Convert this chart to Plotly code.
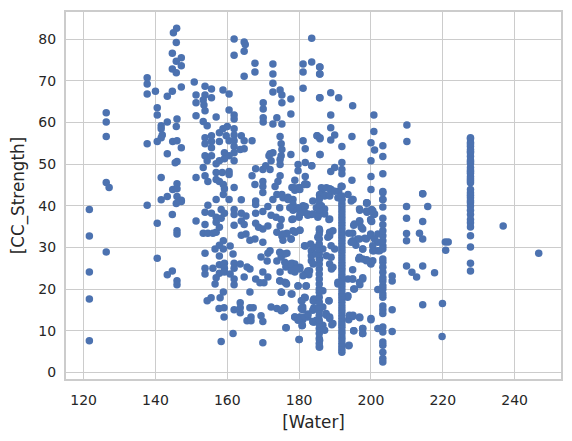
import plotly.graph_objects as go

water_a = [145.9,145,145.8,144.7,147.2,145.8,147.2,144.7,145.8,137.7,137.7,137.7,140,144.7,143.3,147.2,150.8,153.8,155.6,153.8,151.3,155.6,153.3,151.3,153.5,153.8,151.3,153.3,154.4,156.9,158.8,160.5,160.5,161.9,161.9,161.9,161.9,164.7,165,164.7,164.7,167.7,167.7,172.7,172.7,172.7,172.7,174.7,175.2,175.2,177.7,177.7,170,170,170,170,173.8,172.7,175.2,183.5,181.1,183.5,181.1,185.7,185.7,181.1,185.7,140.5,140.5,143.3,146,145.8,141.6,141.6,141.9,141.6,140.5,137.7,144.8,146,147.2,143.3,146,145.5,126.3,126.3,126.3,126.3,127.1,141.6,151.3,146,144.8,146,143.3,141.6,146,147.2]
strength_a = [82.6,81.5,79.2,76.6,75.5,74.7,73.6,72.8,71.9,70.7,69.2,66.8,67.5,67.5,66.3,68.5,69.7,68.7,68,66.6,66.6,65.9,65.4,64.7,64.2,62.8,61.6,60.2,59.2,61.3,67.8,66.8,63,61.8,60.8,80,76.1,79.3,78.7,77.1,71.1,74.2,72.1,74,71.6,69.4,67.3,67.8,66.6,64.7,65.6,62,64.7,63.2,61.1,60.1,61.1,59.6,59.6,80.2,74,74.5,72.1,73.3,71.6,68.2,65.9,63.5,61.8,60.1,60.8,59,59.2,58.5,57,56.3,55.4,54.9,55.4,55.6,53.9,52.5,50.6,50.3,62.3,60.1,56.6,45.6,44.4,46.8,46.8,45.3,43.9,44.1,42.2,41.4,42.2,41.3]

# Dense band between 40 and 60
water_b = [153.8,153.8,155.6,155.6,155.6,157.8,157.8,158.8,160,159.7,161.9,161.9,161.9,161.9,161.9,161.9,160.5,163.9,164.7,166.9,164.7,163.6,153.8,155.6,154.4,153.3,159.2,160.5,159.2,157.8,156.9,153.8,154.6,156.9,158.6,160.5,160.5,156.9,157.8,158.9,159.2,161.9,158.9,156.9,160.5,163.9,174.7,175,175.2,175,174.7,174.7,177.7,181.1,181.7,185,185.8,185.8,183.5,181.7,179.7,179.7,181.7,182.2,178.8,180,178,178.8,181.7,172.7,171.6,171.9,172.2,167.9,169.9,170.7,171.9,166.9,167.7,169.9,169.9,169.9,174.7,174.1,173.3,173.8,175.2,176.9,172.7,178.3,167.9,185.8]
strength_b = [56.3,54.9,56.8,55.4,53.9,57.5,55.4,58.5,59,56.8,58.5,57,55.6,54.2,52.7,50.8,55.6,56.8,55.6,55.6,53.7,53.5,52,52,50.8,49.2,52.7,52,51.3,50.8,50.1,47.2,45.8,48,48,48.2,47.5,46.3,45.8,45.1,44.1,44.4,42.7,41.5,41.5,41.4,56.6,54.9,53.5,52,51.1,49.9,52.3,55.6,53.7,56.8,56.3,52.3,49.6,50.4,49.9,48.4,47,45.1,46.1,44.4,44.4,43.7,45.3,52.7,52,52.5,50.8,48.9,48.7,49.6,48.7,47.2,45.1,45.8,44.6,43.2,47.2,45.8,44.6,42.7,42.7,42,41.5,41.5,41.1,42.5]

# Lower-left part of the cloud
water_c = [121.6,121.6,121.6,121.6,121.6,126.3,137.7,140.5,140.5,144.7,146,146,147.2,145.8,144.7,143.3,146,146,151.3,153.8,153.3,154.6,156,156.9,157.8,153.8,154.6,155.6,156.9,156.9,158.3,159.2,158.3,161.9,161.9,161.9,163.9,163.9,165.2,164.7,163.9,165.2,166.3,167.7,167.9,168.7,169.9,171.3,167.9,167.9,169.9,171.3,172.2,173.6,175,174.7,173.8,175.2,175.5,176.6,169.9,178,180,182.4,180,181.7,177.7,178.9,180.2,181.7,158.9,157.8,156.6,158.9,160.8,157.8,153.8,161.6,171.9,171.3,169.4,171.1,176.6,175.5,175,173.8]
strength_c = [39.1,32.7,24.1,17.6,7.6,28.9,40.1,35.8,27.4,37.9,34,33.2,41,40.5,24.3,23.4,22,21,36.3,35.5,33.4,33.4,33.4,33.6,34.8,38.4,40.1,38.2,37.2,36,39.1,38.2,37,35.3,39.1,37.9,36.3,38.2,37.5,35.5,32.9,33.2,31.7,32,35.8,34.8,34.4,35.1,40.3,38.2,38.6,39.8,37.7,37.2,36.7,35.1,33.6,32.7,31.7,33.4,31.2,36.7,37.2,37.7,39.1,39.8,32,33.6,34.1,30.3,31.6,30.5,29.6,29.6,30.3,27.9,28.6,28.4,29.2,28.6,27.7,26.7,28.6,28.4,27.7,26.7]

water_d = [153.8,153.8,156,157.8,159.2,159.2,157.8,159.2,156.9,156.6,160.8,161.9,161.9,163.6,161.9,161.9,164.7,165.5,166.3,169.9,171.3,167.9,169.1,170.2,174.7,174.7,176.3,176.3,178,178.8,180.2,178,182.4,182.7,181.7,179.7,181.9,158.9,158,166.3,175,178,155.5,154.4,157.7,159.1,159.1,161.9,163.6,163.6,163.6,166.3,167.2,166.6,165.5,166.6,169.4,169.9,172.2,173.8,175,175.8,176.3,161.6,158.3,169.9,180,178.8,179.9,181,182.4,180.8,181.7,180.8,181,181,184.1,184.1,183.8]
strength_d = [25,23.6,25,25.8,26.2,25,23.8,24.1,22.7,21.2,23.6,26.2,25,26,22.4,21,22.9,25.3,24.8,24.1,22.9,22.4,21.5,21.5,24.1,21.9,21.5,25.3,26.2,24.1,24.8,25,24.3,23.4,23.6,20.7,20.7,19.3,17.9,19.3,19.3,18.8,17.9,17.2,15.3,15.5,13.3,15,16.7,15.5,14.3,15.5,15.5,13.3,12.4,12.4,13.6,12.2,15.7,15.3,14.8,15.5,10.7,9.3,7.4,7.1,7.9,13.3,13.1,12.6,13.3,11.2,17.9,17.2,15.7,15,17.6,15.5,12.2]

# Right part, scattered points
water_e = [205.9,205.9,205.9,205.9,200,200,201.9,201.9,201.9,201.9,209.9,209.9,209.9,209.9,209.9,214.4,215.8,214.4,213.5,214.4,211.4,212.7,214.4,217.7,214.4,219.9,219.8,220.7,221.5,220.8,236.8,246.7,200.8,200.8,200,201,203.3,203.3,200,200,203.3,200,203.3,203.3,210,210,214.4,188.8,185.8,191,194.9,188.8,188.8,185,185.8,189.9,188.8,194.7,191.9,185.8,183.5,191.9,189.9,188.8,191.9,191.9,194.7,191.9,186.6,188.5,191,185.7,187.1,188.5,191.9,195,198.8,185.8,185.8]
strength_e = [9.8,15,21.9,23.1,12.6,26,10.5,19.9,29.2,33.2,39.8,37,33.3,31.6,25.5,42.9,39.8,36.2,33.4,32,24,22.9,25.5,23.9,16.2,16.5,8.6,31.3,31.3,29.3,35.1,28.6,61.8,57.8,55.1,53.4,54.4,51.8,50.8,47,47.7,43.9,43.4,41.5,59.4,55.4,42.9,67.1,65.9,65.9,64,61.8,58.7,56.8,56.1,57,55.8,56.6,54.2,52.3,49.6,50.4,49.2,48.2,48.7,47.7,46.1,44.6,44.1,44.1,43.5,42.5,42.5,42.5,41.5,41.5,40.7,73.3,71.6]

water_f = [194.9,198.8,196.9,198.8,200.2,200.8,199.9,200.2,196.9,195.2,197.7,194.9,193.8,199.9,198.3,196.3,194.9,195.8,197.7,200.8,197.7,196.6,198.8,199.9,194.9,194.9,197.7,196.9,195.2,193.5,188.3,194.9,196.9,193.8,189.1,195.2,197.7,197.7,193.8,188.5,188.5,189,188.3,187.5,188.5,190.8,183.4,183.2,183.4,183.4,182.9,184.3,183.8,184.3,183.8]
strength_f = [41.5,40.6,38.9,38.7,39.1,37.9,36.7,36.2,36.2,35.3,34.4,33.4,33.4,33.2,32.2,32,31.4,30.5,29.6,29.2,27.2,27.2,27,26.2,24.6,22.4,22.7,21,20,18,17.2,13.4,13.1,12.6,11.4,10,10.5,9.3,6.4,33.4,32.8,24.8,36.7,14.1,12.9,21.2,37.9,30.8,29.2,26.8,24.4,17.2,14.9,12.1,41.1]

# Dense centre, 24 to 45
water_g = [186.2,187.6,188.9,191.7,185.7,187.1,188.5,189.9,193.6,194.5,190.8,196.8,198.9,198.9,201,200,200.5,184.8,186.2,187.1,185.7,187.1,188.5,185.2,181.1,179.7,178.3,181.5,180.2,178.3,182.5,183.9,175.5,176.9,178.3,177.4,174.6,178.8,180.2,181.5,178.3,180.2,176.5,175.5,177.8,185.7,185.2,188.5,188,189.4,195.4,196.8,197.3,194.9,196.8,198.7,200,201,201.9,200.5,203.3,197.7,194.5,181.5,184.3,183.4,186.6,184.8,185.7,183.9,187.6,188.9,189.9,188.9,188.5,189.4,180.2,178.8,177.4,176,174.6,176,196.8,198.7,200.5,200.5,202.4]
strength_g = [44.3,44.3,43.9,44.7,42.7,42.3,42.3,43.5,42.7,41.1,41.9,39.2,40.7,38.4,38,36.4,38.8,39.5,40,39.2,38.4,38,36.8,37.2,40,39.5,38.9,38.4,38,36.8,38,38,41.9,41.5,40.3,39.5,39.5,44.3,43.9,45.1,34,34.1,33.2,33.2,32,34,32.4,33.6,32.4,34,35.6,36.4,34.8,31.6,32,32,32.8,32,31.2,30.4,30.4,29.6,31.2,30.4,30,28,29.6,28.4,27.2,26,28,27.6,29.6,30.4,26,25.2,25.2,26,26,28.4,28.8,26.4,27.6,26.8,26.8,29.2,29.2]

# Dense centre, below 24
water_h = [176,176.5,174.6,175.1,177.8,179.7,182,182.5,181.1,179.2,177.8,176,175.1,181.5,180.6,180.6,183.9,186.6,186.6,187.6,188.5,188.3,189.4,193.6,194,195,196.8,195.2,197.7,197.7,193.9,200,178.8,180.2,181.5,179.7,180.9,182.5,183.9,176.4,180,185.7,185.7,186.6,187.1,184.8,194.9,197.7,196.8,195.4,190.8,193.6]
strength_h = [21.6,21.2,22,19.2,18.8,20.8,20.8,24,23.2,24.8,24.4,15.3,14.9,18,17.2,15.3,17.2,19.6,15.7,13.7,13.3,17.2,11.7,18.4,13.7,13.7,13.3,10,10.5,9.3,6.5,12.9,13.3,13.3,13.3,12.5,11.3,14,12.1,10.7,7.9,7.7,6.1,11.3,10.1,12.5,22.4,22.4,21.6,20,21.6,22.4]

# Vertical columns of points at a repeated water value
water_192 = [191.9] * 52
strength_192 = [4.8,5.5,6.2,7,7.8,8.5,9.3,10,10.8,11.5,12.2,13,13.7,14.5,15.2,16,16.8,17.6,18.3,19,19.8,20.6,21.3,22,22.8,23.5,24.3,25,25.7,26.4,27.2,28,28.8,29.5,30.2,31,31.7,32.4,33.1,33.8,34.5,35.3,36,36.8,37.5,38.3,39,39.8,40.5,41.5,42.3,44.6]
water_186 = [185.6] * 30
strength_186 = [6.1,6.9,8.1,9.3,10.5,11.7,12.5,13.7,14.7,15.7,16.9,18,19.2,20,21.2,22.4,23.6,24.8,26,27.2,28.4,29.6,30.8,32,33.2,34.4,37.9,39.1,40.3,41.5]
water_203 = [203.3] * 29
strength_203 = [2.5,3.3,4.8,6.5,7.3,9.7,10.9,14.1,15,15.9,18,18.8,20,20.8,21.9,22.7,24,25.2,26.4,27.2,29.6,31.6,32.8,34,35.4,37,39.7,41.5,43.1]
water_228 = [227.7] * 36
strength_228 = [56.1,55.2,54.3,53.5,52.7,51.9,51,50.2,49.2,48.6,47.8,47,46,45.5,43.9,43.1,41.9,40.7,39.9,38.9,37.9,36.7,35.9,34.9,32.8,30.1,26.2,24.3,56.3,54.8,53,50.6,48.2,46.5,42.5,41.2]

x_ticks = [120, 140, 160, 180, 200, 220, 240]
y_ticks = [0, 10, 20, 30, 40, 50, 60, 70, 80]

water = water_a + water_b + water_c + water_d + water_e + water_f + water_g + water_h + water_192 + water_186 + water_203 + water_228
strength = strength_a + strength_b + strength_c + strength_d + strength_e + strength_f + strength_g + strength_h + strength_192 + strength_186 + strength_203 + strength_228

fig = go.Figure(go.Scatter(
    x=water, y=strength, mode="markers",
    marker=dict(color="#4c72b0", size=7.5, line=dict(width=0)),
    hoverinfo="skip",
))
axis_style = dict(
    showgrid=True, gridcolor="#cccccc", gridwidth=1.3, zeroline=False,
    showline=True, linecolor="#cccccc", linewidth=2, mirror=True,
    ticks="", automargin=True,
    tickfont=dict(family="DejaVu Sans", size=14, color="#262626"),
)
fig.update_xaxes(range=[115.1, 252.9], tickvals=x_ticks, ticklabelstandoff=7,
                 title=dict(text="[Water]", font=dict(family="DejaVu Sans", size=16.8, color="#262626"), standoff=9),
                 **axis_style)
fig.update_yaxes(range=[-1.6, 86.5], tickvals=y_ticks, ticklabelstandoff=5,
                 title=dict(text="[CC_Strength]", font=dict(family="DejaVu Sans", size=16.8, color="#262626"), standoff=9),
                 **axis_style)
fig.update_layout(
    width=564, height=433, autosize=False, showlegend=False,
    paper_bgcolor="white", plot_bgcolor="white",
    margin=dict(l=58, r=11, t=2, b=62),
)
fig.write_html("out.html")
